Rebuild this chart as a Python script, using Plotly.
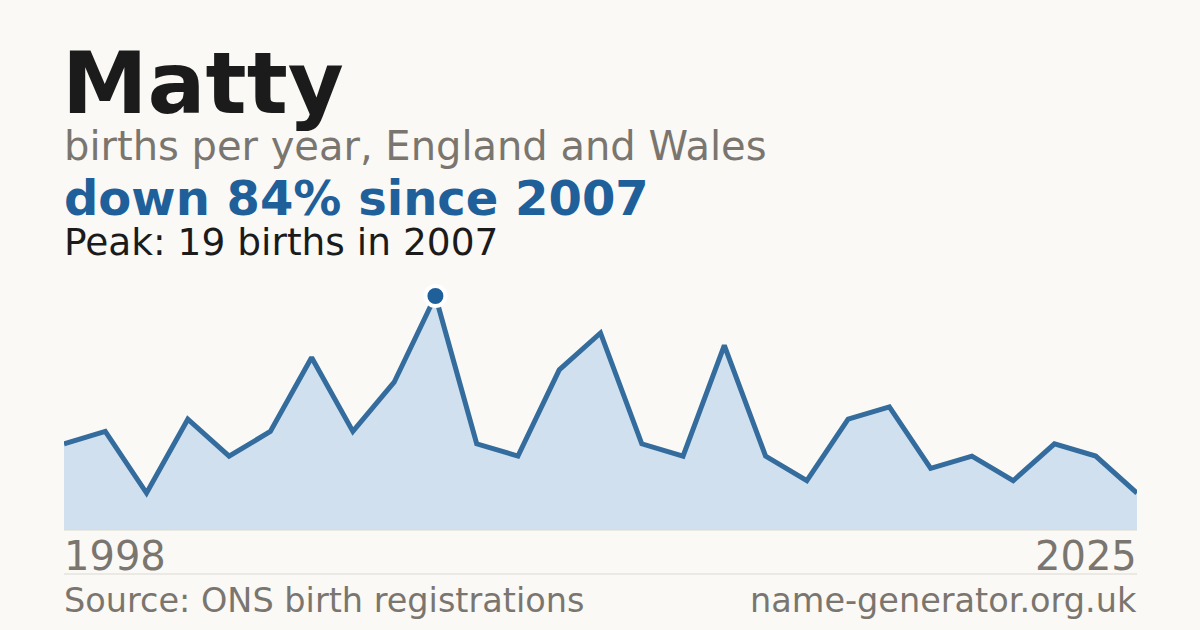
import plotly.graph_objects as go

# ---- data ----
name = "Matty"
subtitle = "births per year, England and Wales"
headline = "down 84% since 2007"
peak_text = "Peak: 19 births in 2007"
source_text = "Source: ONS birth registrations"
site_text = "name-generator.org.uk"
tick_labels = ["1998", "2025"]
births = [7, 8, 3, 9, 6, 8, 14, 8, 12, 19, 7, 6, 13, 16, 7, 6, 15, 6, 4, 9, 10, 5, 6, 4, 7, 6, 3]

# ---- layout constants ----
W, H = 1200, 630
L, R = 64, 1137          # plot left/right px
TOP, BOT = 280, 530      # plot top/bottom px
BG = "#faf9f5"
GREY = "#7a766f"
BLUE = "#20609a"
FONT = "DejaVu Sans"

x = list(range(len(births)))
peak_i = max(range(len(births)), key=lambda i: births[i])


def py(px_y):
    return (BOT - px_y) / (BOT - TOP)


def px(px_x):
    return (px_x - L) / (R - L)


fig = go.Figure()
fig.add_trace(go.Scatter(
    x=x, y=births, mode="lines",
    line=dict(color="#336c9d", width=5),
    fill="tozeroy", fillcolor="#d0e0ef",
    hoverinfo="skip", showlegend=False,
))
fig.add_trace(go.Scatter(
    x=[x[peak_i]], y=[births[peak_i]], mode="markers",
    marker=dict(color=BLUE, size=20, line=dict(color="white", width=4)),
    hoverinfo="skip", showlegend=False, cliponaxis=False,
))

ann = []


def text(t, x_px, y_px, size, color, bold=False, anchor="left"):
    ann.append(dict(
        text=f"<b>{t}</b>" if bold else t,
        x=px(x_px), y=py(y_px), xref="paper", yref="paper",
        xanchor=anchor, yanchor="middle", showarrow=False,
        font=dict(family=FONT, size=size, color=color),
    ))


text(name, 60, 83, 86, "#1b1b1b", bold=True)
text(subtitle, 62, 146, 40, GREY)
text(headline, 62, 198, 48, BLUE, bold=True)
text(peak_text, 62, 242, 37.5, "#1b1b1b")
text(tick_labels[0], 62, 556, 40, GREY)
text(tick_labels[-1], 1139, 556, 40, GREY, anchor="right")
text(source_text, 62, 600, 33.5, GREY)
text(site_text, 1139, 600, 33.5, GREY, anchor="right")

fig.update_layout(
    width=W, height=H,
    paper_bgcolor=BG, plot_bgcolor=BG,
    margin=dict(l=L, r=W - R, t=TOP, b=H - BOT, pad=0),
    xaxis=dict(range=[x[0], x[-1]], visible=False, fixedrange=True),
    yaxis=dict(range=[0, births[peak_i] * (BOT - TOP) / (BOT - 296)], visible=False, fixedrange=True),
    annotations=ann,
    shapes=[
        dict(type="line", xref="paper", yref="paper", x0=0, x1=1, y0=py(574), y1=py(574),
             line=dict(color="#dcd9d2", width=1)),
        dict(type="line", xref="paper", yref="paper", x0=0, x1=1, y0=0, y1=0,
             line=dict(color="#dcd9d2", width=1)),
    ],
)

fig.write_html(
    "out.html",
    config={"staticPlot": True},
    post_script="document.body.style.margin='0';document.body.style.background='%s';" % BG,
)
